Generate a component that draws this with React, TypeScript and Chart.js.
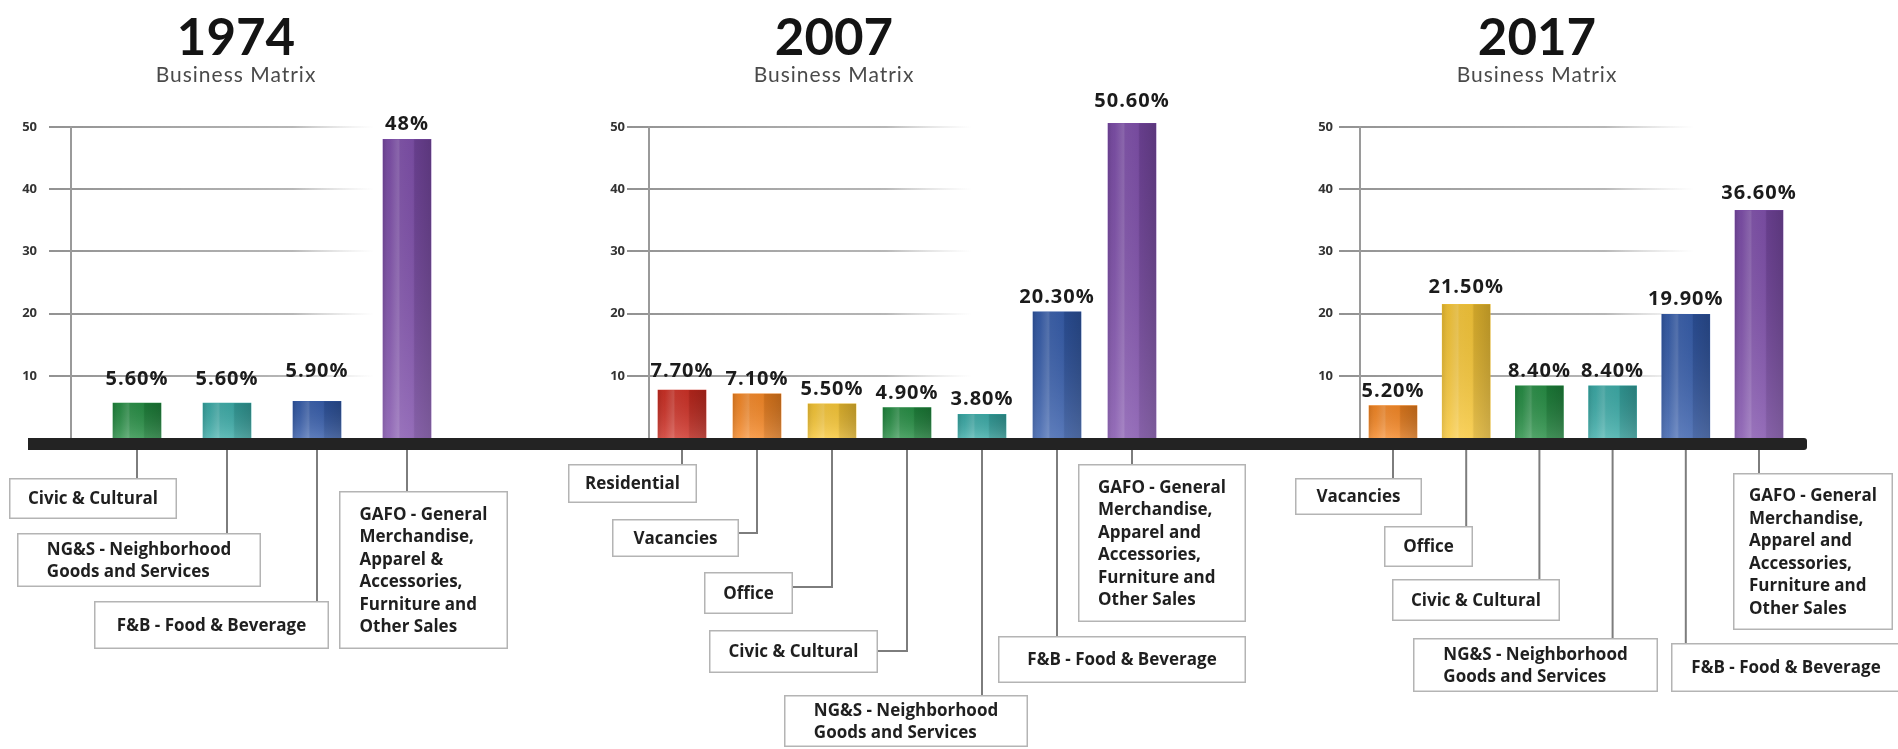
import { useEffect, useRef } from 'react';
import { Chart, registerables } from 'chart.js';

Chart.register(...registerables);

// ---------- data ----------
const yearTitles = ['1974', '2007', '2017'];
const subtitle = 'Business Matrix';

const categories1974 = [
  'Civic & Cultural',
  'NG&S - Neighborhood\nGoods and Services',
  'F&B - Food & Beverage',
  'GAFO - General\nMerchandise,\nApparel &\nAccessories,\nFurniture and\nOther Sales',
];
const shares1974 = [5.6, 5.6, 5.9, 48];

const categories2007 = [
  'Residential',
  'Vacancies',
  'Office',
  'Civic & Cultural',
  'NG&S - Neighborhood\nGoods and Services',
  'F&B - Food & Beverage',
  'GAFO - General\nMerchandise,\nApparel and\nAccessories,\nFurniture and\nOther Sales',
];
const shares2007 = [7.7, 7.1, 5.5, 4.9, 3.8, 20.3, 50.6];

const categories2017 = [
  'Vacancies',
  'Office',
  'Civic & Cultural',
  'NG&S - Neighborhood\nGoods and Services',
  'F&B - Food & Beverage',
  'GAFO - General\nMerchandise,\nApparel and\nAccessories,\nFurniture and\nOther Sales',
];
const shares2017 = [5.2, 21.5, 8.4, 8.4, 19.9, 36.6];

const axisMax = 50;
const axisStep = 10;

// ---------- styling ----------
const categoryColors: Record<string, string> = {
  Residential: '#cc2a1f',
  Vacancies: '#f5841f',
  Office: '#f7c531',
  'Civic & Cultural': '#1f8a3e',
  'NG&S': '#36a9a5',
  'F&B': '#3058a8',
  GAFO: '#7b4aa8',
};
const colorOf = (name: string) => {
  const first = name.split('\n')[0];
  if (categoryColors[first]) return categoryColors[first];
  const code = first.split(' - ')[0];
  return categoryColors[code] || '#888';
};

const PAGE_W = 1898;
const PAGE_H = 749;
const PLOT_TOP = 127;
const PLOT_BOTTOM = 438;
const BAR_W = 48;

const LABEL_FONT = 'bold 17px "Open Sans"';
const LABEL_LINE = 22.5;
const VALUE_FONT = 'bold 20px "Open Sans"';

type Callout = { box: [number, number, number, number]; elbowY?: number; lift?: number };
type Panel = {
  title: string;
  titleX: number;
  categories: string[];
  values: number[];
  canvasLeft: number;
  canvasWidth: number;
  plotLeft: number;
  plotRight: number;
  tickGap: number;
  axisX: number;
  gridFrom: number;
  gridTo: number;
  callouts: Callout[];
};

// page-coordinate layout of each year's panel
const panels: Panel[] = [
  {
    title: yearTitles[0], titleX: 236,
    categories: categories1974, values: shares1974,
    canvasLeft: 0, canvasWidth: 560, plotLeft: 92, plotRight: 452, tickGap: 55,
    axisX: 71, gridFrom: 49, gridTo: 374,
    callouts: [
      { box: [9, 478, 168, 41], lift: 9 },
      { box: [17, 533, 244, 54], lift: 9 },
      { box: [94, 601, 235, 48], lift: 15 },
      { box: [339, 491, 169, 158] },
    ],
  },
  {
    title: yearTitles[1], titleX: 834,
    categories: categories2007, values: shares2007,
    canvasLeft: 520, canvasWidth: 740, plotLeft: 644.5, plotRight: 1169.5, tickGap: 19.5,
    axisX: 649, gridFrom: 627, gridTo: 972,
    callouts: [
      { box: [568, 464, 129, 39], lift: 4 },
      { box: [612, 519, 127, 38], elbowY: 533 },
      { box: [704, 572, 89, 42], elbowY: 587 },
      { box: [709, 630, 169, 43], elbowY: 651 },
      { box: [784, 695, 244, 52] },
      { box: [998, 636, 248, 47] },
      { box: [1078, 464, 168, 158], lift: 7 },
    ],
  },
  {
    title: yearTitles[2], titleX: 1537,
    categories: categories2017, values: shares2017,
    canvasLeft: 1260, canvasWidth: 638, plotLeft: 1356.4, plotRight: 1795.6, tickGap: 23.4,
    axisX: 1360, gridFrom: 1339, gridTo: 1694,
    callouts: [
      { box: [1295, 478, 127, 37] },
      { box: [1384, 526, 89, 41], lift: 2 },
      { box: [1392, 579, 168, 42] },
      { box: [1413, 638, 245, 54] },
      { box: [1671, 643, 230, 49] },
      { box: [1733, 473, 160, 157], lift: 2 },
    ],
  },
];

const formatShare = (v: number) => (Number.isInteger(v) ? String(v) : v.toFixed(2)) + '%';

// gridlines, axis rule, bar shading, value labels and callout boxes
function makeDecor(p: Panel) {
  return {
    id: 'decor',
    beforeDatasetsDraw(chart: any) {
      const { ctx, chartArea } = chart;
      const y = chart.scales.y;
      const off = p.canvasLeft;
      ctx.save();
      y.ticks.forEach((t: any) => {
        if (t.value <= 0) return;
        const py = Math.round(y.getPixelForValue(t.value));
        const x0 = p.gridFrom - off;
        const x1 = p.gridTo - off;
        const g = ctx.createLinearGradient(x0, 0, x1, 0);
        g.addColorStop(0, 'rgba(140,140,140,0.95)');
        g.addColorStop(0.75, 'rgba(170,170,170,0.85)');
        g.addColorStop(1, 'rgba(210,210,210,0)');
        ctx.strokeStyle = g;
        ctx.lineWidth = 2;
        ctx.beginPath();
        ctx.moveTo(x0, py);
        ctx.lineTo(x1, py);
        ctx.stroke();
      });
      const ax = p.axisX - off;
      ctx.strokeStyle = '#9a9a9a';
      ctx.lineWidth = 2;
      ctx.beginPath();
      ctx.moveTo(ax, Math.round(y.getPixelForValue(axisMax)) - 1);
      ctx.lineTo(ax, chartArea.bottom);
      ctx.stroke();
      ctx.restore();
    },
    afterDatasetsDraw(chart: any) {
      const { ctx, chartArea } = chart;
      const off = p.canvasLeft;
      const meta = chart.getDatasetMeta(0);
      ctx.save();
      meta.data.forEach((bar: any, i: number) => {
        const { x, y: top, base, width } = bar.getProps(['x', 'y', 'base', 'width'], true);
        const left = x - width / 2;
        const h = base - top;
        // vertical striping
        const gx = ctx.createLinearGradient(left, 0, left + width, 0);
        gx.addColorStop(0, 'rgba(0,0,0,0.10)');
        gx.addColorStop(0.14, 'rgba(255,255,255,0.04)');
        gx.addColorStop(0.32, 'rgba(255,255,255,0.20)');
        gx.addColorStop(0.36, 'rgba(255,255,255,0.08)');
        gx.addColorStop(0.62, 'rgba(255,255,255,0.04)');
        gx.addColorStop(0.66, 'rgba(0,0,0,0.10)');
        gx.addColorStop(1, 'rgba(0,0,0,0.20)');
        ctx.fillStyle = gx;
        ctx.fillRect(left, top, width, h);
        const gy = ctx.createLinearGradient(0, top, 0, base);
        gy.addColorStop(0, 'rgba(0,0,0,0.08)');
        gy.addColorStop(1, 'rgba(255,255,255,0.16)');
        ctx.fillStyle = gy;
        ctx.fillRect(left, top, width, h);

        const c = p.callouts[i];

        // value label
        ctx.font = VALUE_FONT;
        (ctx as any).letterSpacing = '1px';
        ctx.fillStyle = '#1b1b1b';
        ctx.textAlign = 'center';
        ctx.textBaseline = 'alphabetic';
        ctx.fillText(formatShare(p.values[i]), x, top - 9 - (c.lift || 0));
        (ctx as any).letterSpacing = '0px';

        // callout leader and box
        const [bxp, by, bw, bh] = c.box;
        const bx = bxp - off;
        ctx.strokeStyle = '#7d7d7d';
        ctx.lineWidth = 2;
        ctx.beginPath();
        ctx.moveTo(x, chartArea.bottom);
        if (c.elbowY !== undefined) {
          ctx.lineTo(x, c.elbowY);
          ctx.lineTo(bx + bw, c.elbowY);
        } else {
          ctx.lineTo(x, by);
        }
        ctx.stroke();

        ctx.fillStyle = '#ffffff';
        ctx.fillRect(bx, by, bw, bh);
        ctx.strokeStyle = '#b4b4b4';
        ctx.lineWidth = 1.5;
        ctx.strokeRect(bx + 0.75, by + 0.75, bw - 1.5, bh - 1.5);

        const lines = p.categories[i].split('\n');
        ctx.font = LABEL_FONT;
        ctx.fillStyle = '#1f1f1f';
        ctx.textAlign = 'left';
        ctx.textBaseline = 'middle';
        const maxW = Math.max(...lines.map((l) => ctx.measureText(l).width));
        const tx = bx + (bw - maxW) / 2;
        const first = by + bh / 2 - ((lines.length - 1) * LABEL_LINE) / 2;
        lines.forEach((l, k) => ctx.fillText(l, tx, first + k * LABEL_LINE + 1));
      });
      ctx.restore();
    },
  };
}

function buildConfig(p: Panel): any {
  return {
    type: 'bar',
    data: {
      labels: p.categories,
      datasets: [
        {
          data: p.values,
          backgroundColor: p.categories.map(colorOf),
          borderWidth: 0,
          barThickness: BAR_W,
          clip: false,
        },
      ],
    },
    options: {
      animation: false,
      responsive: false,
      maintainAspectRatio: false,
      events: [],
      layout: {
        padding: {
          left: 0,
          right: p.canvasLeft + p.canvasWidth - p.plotRight,
          top: PLOT_TOP,
          bottom: PAGE_H - PLOT_BOTTOM,
        },
      },
      plugins: {
        legend: { display: false },
        tooltip: { enabled: false },
        title: { display: false },
      },
      scales: {
        x: { display: false, offset: true },
        y: {
          min: 0,
          max: axisMax,
          grid: { display: false, drawTicks: false },
          border: { display: false },
          ticks: {
            stepSize: axisStep,
            padding: p.tickGap,
            color: '#333333',
            font: { family: '"Open Sans"', weight: 'bold', size: 13 },
            callback: (v: number) => (v === 0 ? '' : String(v)),
          },
          afterFit: (scale: any) => {
            scale.width = p.plotLeft - p.canvasLeft;
          },
        },
      },
    },
    plugins: [makeDecor(p)],
  };
}

export default function App() {
  const r0 = useRef<HTMLCanvasElement>(null);
  const r1 = useRef<HTMLCanvasElement>(null);
  const r2 = useRef<HTMLCanvasElement>(null);
  const refs = [r0, r1, r2];

  useEffect(() => {
    document.body.style.margin = '0';
    const charts = panels.map((p, i) => new Chart(refs[i].current as HTMLCanvasElement, buildConfig(p)));
    return () => charts.forEach((c) => c.destroy());
  }, []);

  return (
    <div
      style={{
        position: 'absolute',
        left: 0,
        top: 0,
        width: PAGE_W,
        height: PAGE_H,
        overflow: 'hidden',
        background: '#ffffff',
      }}
    >
      {panels.map((p, i) => (
        <canvas
          key={p.title}
          ref={refs[i]}
          width={p.canvasWidth}
          height={PAGE_H}
          style={{ position: 'absolute', left: p.canvasLeft, top: 0, width: p.canvasWidth, height: PAGE_H }}
        />
      ))}
      {/* shared ground line under all three years */}
      <div
        style={{
          position: 'absolute',
          left: 28,
          top: PLOT_BOTTOM,
          width: 1779,
          height: 12,
          background: '#232323',
          borderRadius: '0 3px 3px 0',
        }}
      />
      {panels.map((p) => (
        <div key={'t' + p.title}>
          <div
            style={{
              position: 'absolute',
              left: p.titleX - 150,
              top: 10,
              width: 300,
              textAlign: 'center',
              font: 'bold 51px Lato',
              lineHeight: '51px',
              color: '#141414',
            }}
          >
            {p.title}
          </div>
          <div
            style={{
              position: 'absolute',
              left: p.titleX - 150,
              top: 63,
              width: 300,
              textAlign: 'center',
              font: '21px Lato',
              lineHeight: '21px',
              letterSpacing: '1px',
              color: '#4a4a4a',
            }}
          >
            {subtitle}
          </div>
        </div>
      ))}
    </div>
  );
}
